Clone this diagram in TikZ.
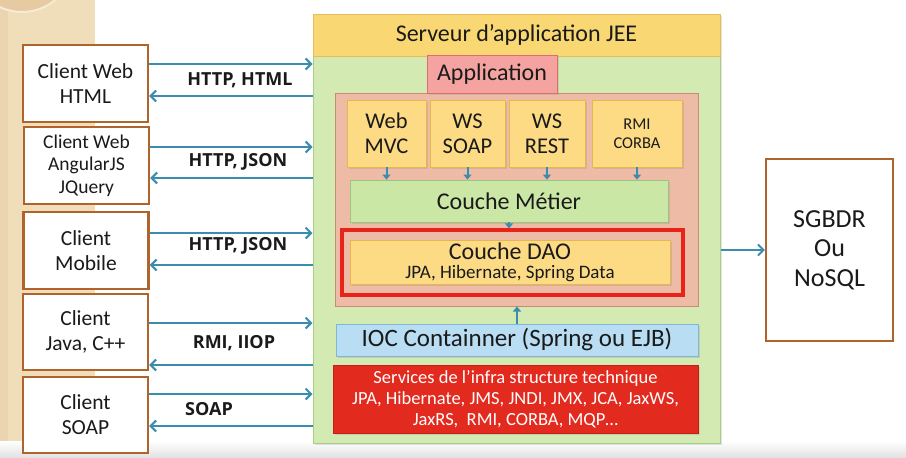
\documentclass[tikz,border=0pt]{standalone}
\usepackage{fontspec}
\setmainfont{Carlito}
\newfontfamily\lblfont{Open Sans}
\usetikzlibrary{arrows.meta,shadows,calc}
\definecolor{arrc}{HTML}{3B8DB0}
\definecolor{clientb}{HTML}{B0632A}
\definecolor{hdrY}{HTML}{F9D772}
\definecolor{hdrYb}{HTML}{E6BE55}
\definecolor{greenB}{HTML}{D3EBB2}
\definecolor{greenBb}{HTML}{A9CF83}
\definecolor{pinkC}{HTML}{EDBBA6}
\definecolor{pinkCb}{HTML}{C98C70}
\definecolor{appF}{HTML}{F4A3A0}
\definecolor{appB}{HTML}{D9706A}
\definecolor{yelF}{HTML}{FCDB84}
\definecolor{yelB}{HTML}{E6B84C}
\definecolor{metF}{HTML}{CBE7A6}
\definecolor{metB}{HTML}{9CC77A}
\definecolor{iocF}{HTML}{B9DDF2}
\definecolor{iocB}{HTML}{7FB7D9}
\definecolor{srvF}{HTML}{E32A1E}
\definecolor{srvB}{HTML}{C81E14}
\definecolor{daoR}{HTML}{E8241A}
\definecolor{beige}{HTML}{F0DDB9}
\definecolor{txt}{HTML}{1A1A1A}
\tikzset{
  shd/.style={drop shadow={opacity=0.22,shadow xshift=1.5pt,shadow yshift=-1.5pt}},
  client/.style={draw=clientb,line width=2.4pt,fill=white,align=center,text=txt,
    font=\fontsize{21.5}{25}\selectfont,minimum width=125pt,inner sep=1pt},
  arr/.style={draw=arrc,line width=2.2pt,-{Straight Barb[length=5.5pt,width=11pt,line width=2pt]}},
  sarr/.style={draw=arrc,line width=2pt,-{Triangle[length=5pt,width=8pt]}},
  lbl/.style={font=\lblfont\bfseries\fontsize{18}{20}\selectfont,text=txt},
  ybox/.style={draw=yelB,line width=0.8pt,fill=yelF,align=center,text=txt,shd,
    minimum height=67pt,inner sep=1pt},
}
\begin{document}
\begin{tikzpicture}[x=1pt,y=-1pt]
\useasboundingbox (0,0) rectangle (906,458);
\fill[white] (0,0) rectangle (906,458);
% slide decoration
\fill[beige] (0,0) rectangle (95,458);
\fill[beige!85!brown!90!white] (0,0) rectangle (8,458);
\begin{scope}
\clip (0,0) rectangle (95,458);
\filldraw[fill=beige!80!brown,draw=beige!60!white,line width=2pt] (22,-40) circle (52);
\end{scope}
\shade[top color=white,bottom color=black!12] (0,441) rectangle (906,458);

% server
\node[draw=greenBb,fill=greenB,line width=1pt,minimum width=407pt,minimum height=429pt,shd] (srv) at (516.5,228.5) {};
\node[draw=hdrYb,fill=hdrY,line width=0.8pt,minimum width=407pt,minimum height=42pt,text=txt,
  font=\fontsize{24}{26}\selectfont] (hdr) at (516.5,35) {Serveur d’application JEE};
\node[draw=pinkCb,fill=pinkC,line width=1pt,minimum width=363pt,minimum height=213pt] (pink) at (516.5,199.5) {};
\node[draw=appB,fill=appF,line width=1pt,minimum width=130pt,minimum height=38pt,text=txt,shd,
  inner sep=1pt,font=\fontsize{24}{26}\selectfont] (app) at (492,74) {Application};

\node[ybox,minimum width=79pt,font=\fontsize{22.5}{25}\selectfont] (wm) at (386.5,133.5) {Web\\MVC};
\node[ybox,minimum width=75pt,font=\fontsize{22.5}{25}\selectfont] (ws) at (467.5,133.5) {WS\\SOAP};
\node[ybox,minimum width=76pt,font=\fontsize{22.5}{25}\selectfont] (wr) at (547,133.5) {WS\\REST};
\node[ybox,minimum width=90pt,font=\fontsize{16.5}{19}\selectfont] (rc) at (637,133.5) {RMI\\CORBA};

\node[draw=metB,fill=metF,line width=0.8pt,minimum width=318pt,minimum height=42pt,text=txt,shd,
  inner sep=1pt,font=\fontsize{24}{26}\selectfont] (met) at (509,201) {Couche Métier};
\node[draw=daoR,line width=3.2pt,minimum width=341pt,minimum height=65pt] (daof) at (512.5,262.5) {};
\node[draw=yelB,fill=yelF,line width=0.8pt,minimum width=320pt,minimum height=44pt,text=txt,shd,
  align=center,inner sep=0pt] (dao) at (510,262)
  {{\fontsize{24}{22}\selectfont Couche DAO}\\[5pt]{\fontsize{19}{18}\selectfont JPA, Hibernate, Spring Data}};

\node[draw=iocB,fill=iocF,line width=0.8pt,minimum width=362pt,minimum height=32pt,text=txt,shd,
  inner sep=0pt,font=\fontsize{25}{26}\selectfont] (ioc) at (517,340) {IOC Containner (Spring ou EJB)};
\node[draw=srvB,fill=srvF,line width=0.8pt,minimum width=365pt,minimum height=68pt,text=white,shd,
  align=center,inner sep=0pt,font=\fontsize{18.5}{21}\selectfont] (svc) at (515.5,399)
  {Services de l’infra structure technique\\JPA, Hibernate, JMS, JNDI, JMX, JCA, JaxWS,\\JaxRS,\ \ RMI, CORBA, MQP…};

% inner arrows
\foreach \b in {wm,ws,wr,rc}{\draw[sarr] (\b.south) -- (\b.south |- met.north);}
\draw[sarr] (met.south) -- (met.south |- daof.north);
\draw[sarr] (ioc.north) -- (ioc.north |- pink.south);

% clients
\node[client,minimum height=77pt] (c1) at (85.5,83.5) {Client Web\\HTML};
\node[client,minimum height=77pt,font=\fontsize{19.5}{22.5}\selectfont] (c2) at (86.5,165.5) {Client Web\\AngularJS\\JQuery};
\node[client,minimum height=77pt] (c3) at (86,250.5) {Client\\Mobile};
\node[client,minimum height=76pt] (c4) at (85.5,332) {Client\\Java, C++};
\node[client,minimum height=76pt] (c5) at (85.5,415) {Client\\SOAP};

\draw[arr] ([yshift=19.5pt]c1.east) -- ([yshift=19.5pt]c1.east -| srv.west);
\draw[arr] ([yshift=-12.5pt]c1.east -| srv.west) -- ([yshift=-12.5pt]c1.east);
\draw[arr] ([yshift=18.5pt]c2.east) -- ([yshift=18.5pt]c2.east -| srv.west);
\draw[arr] ([yshift=-12.5pt]c2.east -| srv.west) -- ([yshift=-12.5pt]c2.east);
\draw[arr] ([yshift=17.5pt]c3.east) -- ([yshift=17.5pt]c3.east -| srv.west);
\draw[arr] ([yshift=-14.5pt]c3.east -| srv.west) -- ([yshift=-14.5pt]c3.east);
\draw[arr] ([yshift=9pt]c4.east) -- ([yshift=9pt]c4.east -| srv.west);
\draw[arr] ([yshift=-33pt]c4.east -| srv.west) -- ([yshift=-33pt]c4.east);
\draw[arr] ([yshift=21pt]c5.east) -- ([yshift=21pt]c5.east -| srv.west);
\draw[arr] ([yshift=-11pt]c5.east -| srv.west) -- ([yshift=-11pt]c5.east);

\node[lbl] (l1) at (240,80) {HTTP, HTML};
\node[lbl] (l2) at (238,162) {HTTP, JSON};
\node[lbl] (l3) at (238,246) {HTTP, JSON};
\node[lbl] (l4) at (234,343) {RMI, IIOP};
\node[lbl] (l5) at (209,409) {SOAP};

% database
\node[draw=clientb,line width=2.2pt,fill=white,minimum width=127pt,minimum height=182pt,align=center,
  text=txt,font=\fontsize{26}{29.5}\selectfont] (db) at (829.5,250) {SGBDR\\Ou\\NoSQL};
\draw[arr] (db.west -| srv.east) -- (db.west);
\end{tikzpicture}
\end{document}
